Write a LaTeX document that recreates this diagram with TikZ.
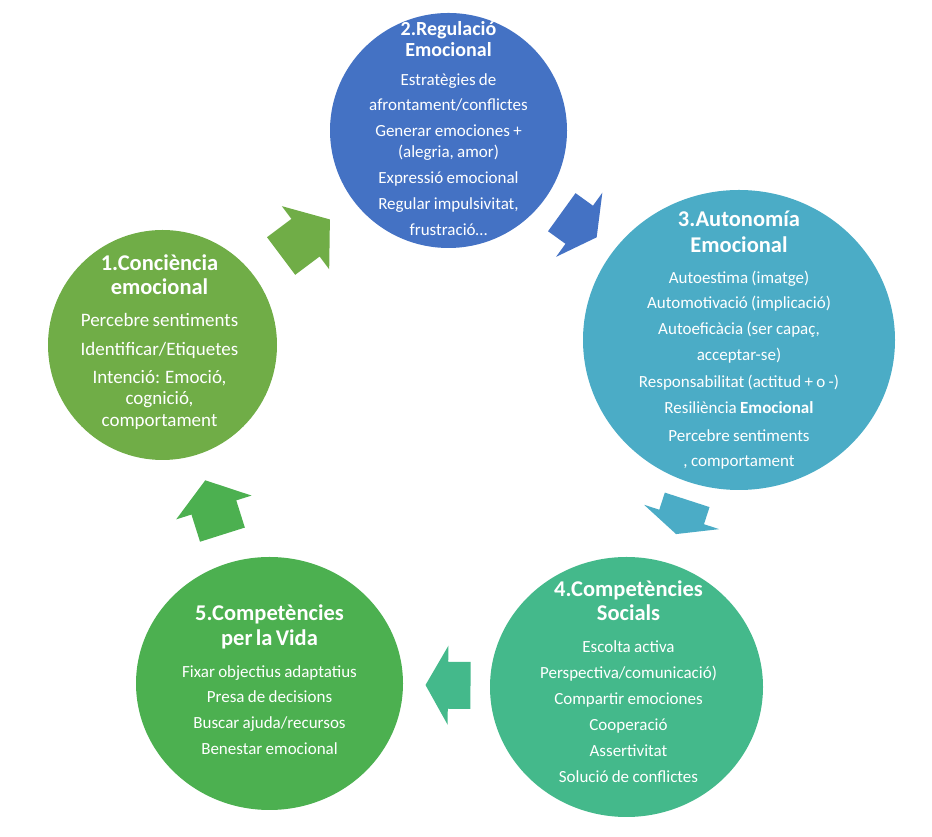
\documentclass[tikz,border=0pt]{standalone}
\usepackage{fontspec}
\setmainfont{Carlito}
\usepackage{tikz}
\usetikzlibrary{calc,shapes.geometric}
\definecolor{gconc}{HTML}{70AD47}
\definecolor{breg}{HTML}{4472C4}
\definecolor{taut}{HTML}{4BACC6}
\definecolor{gsoc}{HTML}{44B98B}
\definecolor{gvid}{HTML}{4CB050}
\newcommand*{\cyctitle}{\fontsize{22.5}{24}\selectfont\bfseries}
\newcommand*{\cycbody}{\fontsize{17}{26}\selectfont}
\newcommand*{\linkarrow}[5]{%
  \fill[#5] let \p1=($(#2)-(#1)$), \n1={atan2(\y1,\x1)}, \p2=($(#1)!#3!(#2)$) in
    [shift={(\p2)}, rotate=\n1]
    (-#4,-23.5) -- (0,-23.5) -- (0,-39.5) -- (#4,0) -- (0,39.5) -- (0,23.5) -- (-#4,23.5) -- cycle;}
\tikzset{%
  stage/.style 2 args={ellipse,inner sep=0pt,minimum width=#1,minimum height=#2},
  stagetext/.style={text=white,align=center,text width=230pt,inner sep=0pt},
}

\begin{document}
\begin{tikzpicture}[x=1pt,y=1pt]
    \useasboundingbox (0,0) rectangle (932,837);
    \node[stage={229}{230}, fill=gconc] (con) at (162.5,492) {};
    \node[stage={237}{235}, fill=breg] (reg) at (448.5,706.5) {};
    \node[stage={312}{300}, fill=taut] (aut) at (739,497) {};
    \node[stage={273}{260}, fill=gsoc] (soc) at (626.5,150) {};
    \node[stage={267}{253}, fill=gvid] (vid) at (269.5,153.5) {};
    \foreach \src/\dst/\where/\half/\col in {con/reg/0.5/30.5/gconc, reg/aut/0.45/21.5/breg,
        aut/soc/0.51/18/taut, soc/vid/0.5/22.5/gsoc, vid/con/0.52/28.5/gvid}
        \linkarrow{\src}{\dst}{\where}{\half}{\col};
    \node[stagetext, xshift=-3, yshift=3] (cont) at (con) {{\cyctitle 1.Conciència\\emocional\par}
        {\fontsize{19}{26}\selectfont\vspace{6pt}Percebre sentiments\\[3pt]Identificar/Etiquetes\\[2pt]Intenció: Emoció,\\[-5pt]cognició,\\[-4pt]comportament\par}};
    \node[stagetext, yshift=1.5] (regt) at (reg) {{\fontsize{20}{24}\selectfont\bfseries 2.Regulació\\[-3pt]Emocional\par}
        {\cycbody\vspace{3pt}Estratègies de\\[-1pt]afrontament/conflictes\\Generar emociones +\\[-5pt](alegria, amor)\\Expressió emocional\\Regular impulsivitat,\\frustració…\par}};
    \node[stagetext] (autt) at (aut) {{\cyctitle 3.Autonomía\\[2pt]Emocional\par}
        {\cycbody\vspace{5pt}Autoestima (imatge)\\[-1pt]Automotivació (implicació)\\Autoeficàcia (ser capaç,\\acceptar-se)\\[1pt]Responsabilitat (actitud + o -)\\Resiliència \textbf{Emocional}\\[2pt]Percebre sentiments\\[-1pt], comportament\par}};
    \node[stagetext, xshift=2, yshift=5.5] (soct) at (soc) {{\cyctitle 4.Competències\\Socials\par}
        {\cycbody\vspace{6pt}Escolta activa\\Perspectiva/comunicació)\\Compartir emociones\\Cooperació\\Assertivitat\\Solució de conflictes\par}};
    \node[stagetext, yshift=4] (vidt) at (vid) {{\cyctitle 5.Competències\\[1pt]per la Vida\par}
        {\cycbody\vspace{6pt}Fixar objectius adaptatius\\[-1pt]Presa de decisions\\Buscar ajuda/recursos\\Benestar emocional\par}};
\end{tikzpicture}
\end{document}
